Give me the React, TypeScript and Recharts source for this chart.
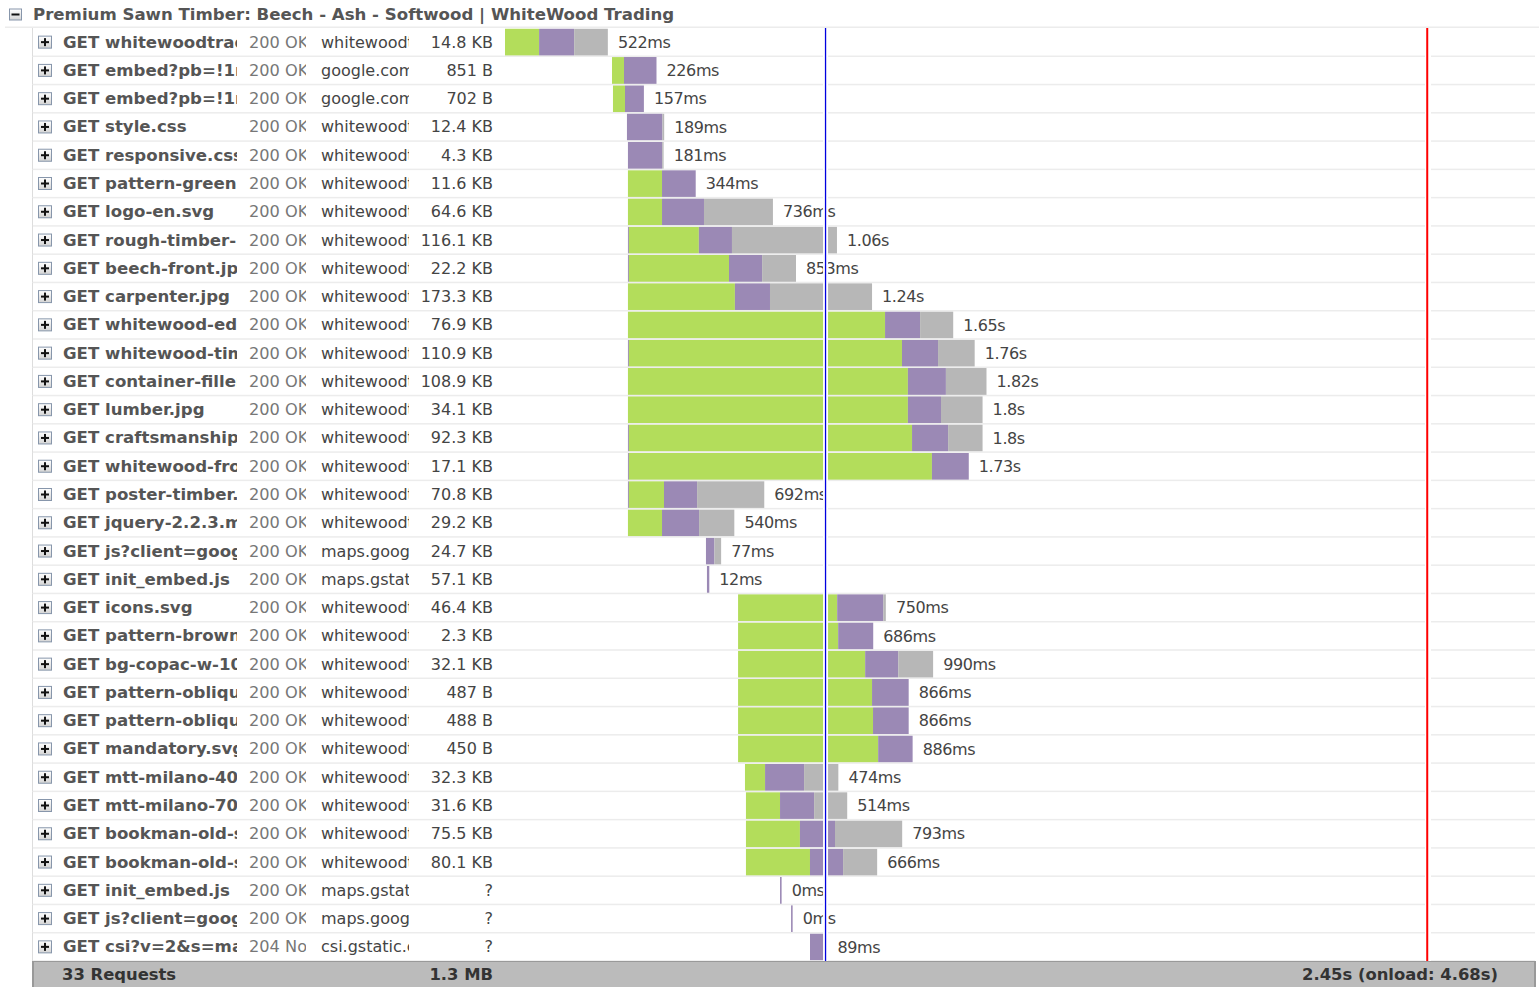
import React from "react";
import { BarChart, Bar, XAxis, YAxis, ReferenceLine, LabelList } from "recharts";

// request names as visible in the (clipped) name column
const names = [
  "GET whitewoodtrad", "GET embed?pb=!1m", "GET embed?pb=!1m", "GET style.css",
  "GET responsive.css", "GET pattern-green.", "GET logo-en.svg", "GET rough-timber-b",
  "GET beech-front.jpg", "GET carpenter.jpg", "GET whitewood-edg", "GET whitewood-tim",
  "GET container-filler", "GET lumber.jpg", "GET craftsmanship.", "GET whitewood-fro",
  "GET poster-timber.", "GET jquery-2.2.3.mi", "GET js?client=goog", "GET init_embed.js",
  "GET icons.svg", "GET pattern-brown.", "GET bg-copac-w-100", "GET pattern-obliqu",
  "GET pattern-obliqu", "GET mandatory.svg", "GET mtt-milano-400", "GET mtt-milano-700",
  "GET bookman-old-s", "GET bookman-old-s", "GET init_embed.js", "GET js?client=goog",
  "GET csi?v=2&s=ma",
];
const statuses = [
  "200 OK", "200 OK", "200 OK", "200 OK", "200 OK", "200 OK", "200 OK", "200 OK", "200 OK", "200 OK", "200 OK",
  "200 OK", "200 OK", "200 OK", "200 OK", "200 OK", "200 OK", "200 OK", "200 OK", "200 OK", "200 OK", "200 OK",
  "200 OK", "200 OK", "200 OK", "200 OK", "200 OK", "200 OK", "200 OK", "200 OK", "200 OK", "200 OK", "204 No C",
];
const WW = "whitewoodt";
const domains = [
  WW, "google.com", "google.com", WW, WW, WW, WW, WW, WW, WW, WW, WW, WW, WW, WW, WW, WW, WW,
  "maps.goog", "maps.gstat", WW, WW, WW, WW, WW, WW, WW, WW, WW, WW,
  "maps.gstat", "maps.goog", "csi.gstatic.c",
];
const sizes = [
  "14.8 KB", "851 B", "702 B", "12.4 KB", "4.3 KB", "11.6 KB", "64.6 KB", "116.1 KB", "22.2 KB", "173.3 KB",
  "76.9 KB", "110.9 KB", "108.9 KB", "34.1 KB", "92.3 KB", "17.1 KB", "70.8 KB", "29.2 KB", "24.7 KB", "57.1 KB",
  "46.4 KB", "2.3 KB", "32.1 KB", "487 B", "488 B", "450 B", "32.3 KB", "31.6 KB", "75.5 KB", "80.1 KB", "?", "?", "?",
];
// timings in ms
const startMs = [
  0, 543, 548, 619, 624, 624, 624, 624, 624, 624, 624, 624, 624, 624, 624, 624, 624, 624, 1020, 1025,
  1183, 1183, 1183, 1183, 1183, 1183, 1218, 1223, 1223, 1223, 1396, 1452, 1548,
];
const preMs = [
  0, 0, 0, 0, 0, 0, 0, 5, 5, 0, 0, 5, 0, 0, 5, 5, 5, 0, 0, 0, 0, 0, 0, 0, 0, 0, 0, 0, 0, 0, 0, 0, 0,
];
const greenMs = [
  173, 61, 61, 0, 0, 173, 173, 355, 508, 543, 1305, 1386, 1421, 1421, 1437, 1538, 178, 173, 0, 0,
  503, 508, 645, 680, 685, 711, 102, 173, 274, 325, 0, 0, 0,
];
const purpleMs = [
  178, 165, 96, 180, 174, 171, 213, 168, 168, 178, 178, 183, 193, 168, 183, 187, 168, 188, 43, 12,
  234, 178, 168, 186, 181, 175, 198, 173, 178, 168, 8, 8, 89,
];
const greyMs = [
  171, 0, 0, 9, 7, 0, 350, 533, 172, 518, 168, 186, 206, 211, 175, 0, 341, 179, 34, 0,
  13, 0, 177, 0, 0, 0, 174, 168, 341, 173, 0, 0, 0,
];
const labels = [
  "522ms", "226ms", "157ms", "189ms", "181ms", "344ms", "736ms", "1.06s", "853ms", "1.24s", "1.65s", "1.76s",
  "1.82s", "1.8s", "1.8s", "1.73s", "692ms", "540ms", "77ms", "12ms", "750ms", "686ms", "990ms", "866ms",
  "866ms", "886ms", "474ms", "514ms", "793ms", "666ms", "0ms", "0ms", "89ms",
];
const domContentLoadedMs = 1627;
const onloadMs = 4681;
const domainMax = 5228;

const data = names.map((n, i) => ({
  row: "r" + i,
  start: startMs[i],
  pre: preMs[i],
  green: greenMs[i],
  purple: purpleMs[i],
  grey: greyMs[i],
  end: 0,
  label: labels[i],
}));

const FONT = '"DejaVu Sans", Verdana, sans-serif';
const TOP = 28;
const BOTTOM = 961;
const ROW_H = (BOTTOM - TOP) / names.length;

const GREEN = "#b3dd5b";
const PURPLE = "#9b89b5";
const GREY = "#b7b7b7";

const BoxIcon = ({ x, cy, w, h, minus }: { x: number; cy: number; w: number; h: number; minus?: boolean }) => (
  <g>
    <defs>
      <linearGradient id="pbg" x1="0" y1="0" x2="0" y2="1">
        <stop offset="0" stopColor="#ffffff" />
        <stop offset="1" stopColor="#d4d4d4" />
      </linearGradient>
    </defs>
    <rect x={x + 0.5} y={cy - h / 2 + 0.5} width={w - 1} height={h - 1} fill="url(#pbg)" stroke="#8796ab" strokeWidth={1} />
    <rect x={x + w / 2 - 4} y={cy - 1} width={8} height={2} fill="#111" />
    {!minus && <rect x={x + w / 2 - 1} y={cy - 4} width={2} height={8} fill="#111" />}
  </g>
);

const RowTick = (props: any) => {
  const { y, payload } = props;
  const i = Number(String(payload.value).slice(1));
  const top = y - ROW_H / 2;
  return (
    <g style={{ fontFamily: FONT }}>
      <rect x={32} y={top} width={1} height={ROW_H} fill="#dddddd" />
      <rect x={33} y={top + ROW_H - 0.75} width={1502} height={1.5} fill="#ececec" />
      <BoxIcon x={38} cy={y} w={14} h={13} />
      <svg x={63} y={top} width={174} height={ROW_H} overflow="hidden">
        <text x={0} y={ROW_H / 2} dominantBaseline="central" fontWeight="bold" fontSize={16.6} fill="#555">
          {names[i]}
        </text>
      </svg>
      <svg x={249} y={top} width={57} height={ROW_H} overflow="hidden">
        <text x={0} y={ROW_H / 2} dominantBaseline="central" fontSize={16.2} fill="#777">
          {statuses[i]}
        </text>
      </svg>
      <svg x={321} y={top} width={88} height={ROW_H} overflow="hidden">
        <text x={0} y={ROW_H / 2} dominantBaseline="central" fontSize={16} fill="#444">
          {domains[i]}
        </text>
      </svg>
      <text x={493} y={y} dominantBaseline="central" textAnchor="end" fontSize={16} fill="#444">
        {sizes[i]}
      </text>
    </g>
  );
};

const EndLabel = (props: any) => {
  const { x, y, width, height, value } = props;
  return (
    <text
      x={Number(x) + Number(width) + 10}
      y={Number(y) + Number(height) / 2}
      dominantBaseline="central"
      fontSize={16}
      letterSpacing={-0.4}
      fill="#444"
      style={{ fontFamily: FONT }}
    >
      {value}
    </text>
  );
};

export default function App() {
  return (
    <div style={{ position: "absolute", left: 0, top: 0, width: 1539, height: 987, fontFamily: FONT, background: "#fff" }}>
      {/* header */}
      <svg style={{ position: "absolute", left: 0, top: 0 }} width={1539} height={28}>
        <BoxIcon x={9} cy={14.5} w={13} h={12} minus />
        <text x={33} y={14} dominantBaseline="central" fontWeight="bold" fontSize={16.6} fill="#555" style={{ fontFamily: FONT }}>
          Premium Sawn Timber: Beech - Ash - Softwood | WhiteWood Trading
        </text>
        <rect x={5} y={26.5} width={1534} height={1.5} fill="#ececec" />
      </svg>
      <div style={{ position: "absolute", left: 0, top: 0 }}>
        <BarChart
          width={1539}
          height={987}
          data={data}
          layout="vertical"
          margin={{ top: TOP, right: 4, bottom: 987 - BOTTOM, left: 0 }}
          barCategoryGap={0.8}
        >
          <XAxis type="number" hide domain={[0, domainMax]} allowDataOverflow />
          <YAxis
            type="category"
            dataKey="row"
            width={505}
            interval={0}
            tickLine={false}
            axisLine={false}
            tick={<RowTick />}
            zIndex={0}
          />
          <Bar dataKey="start" stackId="a" fill="transparent" isAnimationActive={false} />
          <Bar dataKey="pre" stackId="a" fill={PURPLE} isAnimationActive={false} />
          <Bar dataKey="green" stackId="a" fill={GREEN} isAnimationActive={false} />
          <Bar dataKey="purple" stackId="a" fill={PURPLE} isAnimationActive={false} />
          <Bar dataKey="grey" stackId="a" fill={GREY} isAnimationActive={false} />
          <Bar dataKey="end" stackId="a" fill="transparent" minPointSize={0.05} isAnimationActive={false}>
            <LabelList dataKey="label" content={<EndLabel />} />
          </Bar>
          <ReferenceLine x={domContentLoadedMs} stroke="#ffffff" strokeWidth={5} zIndex={3000} />
          <ReferenceLine x={domContentLoadedMs} stroke="#0000e0" strokeWidth={1.3} zIndex={3001} />
          <ReferenceLine x={onloadMs + 4} stroke="#ffffff" strokeWidth={6} zIndex={3000} />
          <ReferenceLine x={onloadMs} stroke="#ff0000" strokeWidth={2} zIndex={3001} />
        </BarChart>
      </div>
      {/* footer */}
      <div
        style={{
          position: "absolute",
          left: 32,
          top: 961,
          width: 1500,
          height: 25,
          background: "#bbbbbb",
          borderTop: "1px solid #999",
          borderLeft: "2px solid #999",
          borderRight: "2px solid #999",
          color: "#333",
          fontWeight: "bold",
          fontSize: 16.4,
          fontFamily: FONT,
        }}
      >
        <span style={{ position: "absolute", left: 28, top: 3 }}>33 Requests</span>
        <span style={{ position: "absolute", right: 1534 - 493, top: 3 }}>1.3 MB</span>
        <span style={{ position: "absolute", right: 1534 - 1498, top: 3 }}>2.45s (onload: 4.68s)</span>
      </div>
    </div>
  );
}
